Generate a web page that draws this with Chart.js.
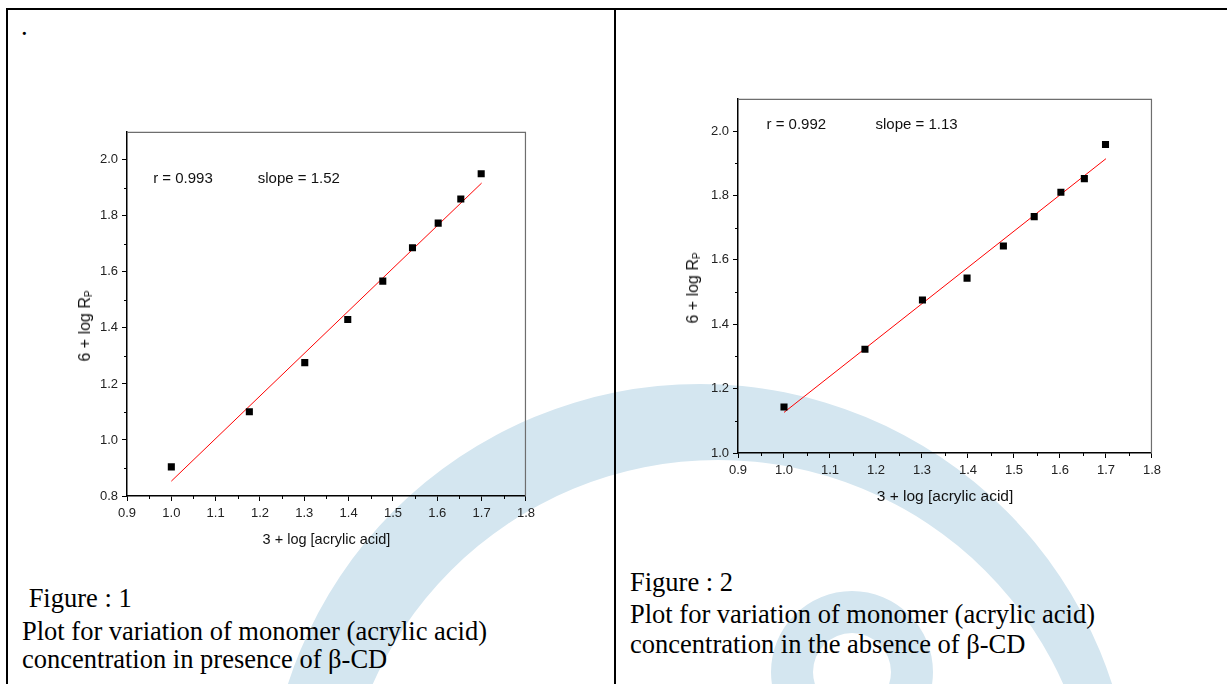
<!DOCTYPE html>
<html>
<head>
<meta charset="utf-8">
<script src="https://cdn.jsdelivr.net/npm/chart.js@4.4.1/dist/chart.umd.min.js"></script>
<style>
  html, body { margin: 0; padding: 0; background: #fff; }
  #page { position: relative; width: 1227px; height: 684px; overflow: hidden;
          font-family: "Liberation Serif", "Times New Roman", serif; }
  .wm { position: absolute; left: 0; top: 0; }
  .rule { position: absolute; background: #000; }
  .chartbox { position: absolute; }
  .ytitle { position: absolute; font-family: "Liberation Sans", Arial, sans-serif; font-size: 16px;
            color: #111; white-space: nowrap; transform: translate(-50%, -50%) rotate(-90deg); }
  .ytitle sub { font-size: 10px; vertical-align: -2px; }
  .cap { position: absolute; font-size: 26.5px; line-height: 30px; color: #000; white-space: nowrap; }
</style>
</head>
<body>
<div id="page">
  <svg class="wm" width="1227" height="684">
    <path fill="#d4e6f0" fill-rule="evenodd"
      d="M 267 817 A 433 433 0 1 1 1133 817 A 433 433 0 1 1 267 817 Z
         M 340 838 A 378 378 0 1 0 1096 838 A 378 378 0 1 0 340 838 Z"/>
    <path fill="#d4e6f0" fill-rule="evenodd"
      d="M 771 672 A 81 81 0 1 1 933 672 A 81 81 0 1 1 771 672 Z
         M 813 672 A 39 39 0 1 1 891 672 A 39 39 0 1 1 813 672 Z"/>
  </svg>

  <div class="rule" style="left:6px;top:8px;width:1221px;height:2px;"></div>
  <div class="rule" style="left:6px;top:8px;width:2px;height:676px;"></div>
  <div class="rule" style="left:614px;top:8px;width:2px;height:676px;"></div>

  <div class="cap" style="left:21px;top:11px;">.</div>

  <div class="chartbox" style="left:72px;top:120px;width:468px;height:440px;">
    <canvas id="c1" width="468" height="440"></canvas>
  </div>
  <div class="ytitle" style="left:85px;top:326px;">6 + log R<sub>P</sub></div>

  <div class="chartbox" style="left:683px;top:87px;width:483px;height:433px;">
    <canvas id="c2" width="483" height="433"></canvas>
  </div>
  <div class="ytitle" style="left:693px;top:288px;">6 + log R<sub>P</sub></div>

  <div class="cap" style="left:22px;top:583px;">&nbsp;Figure : 1</div>
  <div class="cap" style="left:22px;top:616px;">Plot for variation of monomer (acrylic acid)</div>
  <div class="cap" style="left:22px;top:644px;">concentration in presence of β-CD</div>

  <div class="cap" style="left:630px;top:567px;">Figure : 2</div>
  <div class="cap" style="left:630px;top:599px;">Plot for variation of monomer (acrylic acid)</div>
  <div class="cap" style="left:630px;top:629px;">concentration in the absence of β-CD</div>
</div>

<script>
// ---- data ----
const xValues      = [1.0, 1.176, 1.301, 1.398, 1.477, 1.544, 1.602, 1.653, 1.699];
const yPresenceCD  = [0.904, 1.101, 1.276, 1.430, 1.567, 1.686, 1.774, 1.860, 1.950];
const yAbsenceCD   = [1.143, 1.322, 1.475, 1.543, 1.643, 1.734, 1.810, 1.852, 1.958];
const fitX         = [1.0, 1.7];
const fitPresence  = [0.853, 1.917];
const fitAbsence   = [1.126, 1.914];
const xTicks       = [0.9, 1.0, 1.1, 1.2, 1.3, 1.4, 1.5, 1.6, 1.7, 1.8];
const xMinorTicks  = [0.95, 1.05, 1.15, 1.25, 1.35, 1.45, 1.55, 1.65, 1.75];
const yTicks1      = [0.8, 1.0, 1.2, 1.4, 1.6, 1.8, 2.0];
const yMinorTicks1 = [0.9, 1.1, 1.3, 1.5, 1.7, 1.9];
const yTicks2      = [1.0, 1.2, 1.4, 1.6, 1.8, 2.0];
const yMinorTicks2 = [1.1, 1.3, 1.5, 1.7, 1.9];
const notes1       = ["r = 0.993", "slope = 1.52"];
const notes2       = ["r = 0.992", "slope = 1.13"];
const xTitle       = "3 + log [acrylic acid]";

Chart.defaults.font.family = '"Liberation Sans", Arial, sans-serif';

const framePlugin = {
  id: 'frame',
  afterDraw(chart, args, o) {
    const { ctx, chartArea: a, scales: { x, y } } = chart;
    ctx.save();
    ctx.strokeStyle = '#6e6e6e';
    ctx.lineWidth = 1.2;
    ctx.beginPath();
    ctx.moveTo(a.left, a.top + 0.5);
    ctx.lineTo(a.right - 0.5, a.top + 0.5);
    ctx.lineTo(a.right - 0.5, a.bottom);
    ctx.stroke();
    ctx.strokeStyle = '#000';
    ctx.lineWidth = 1;
    o.xMinor.forEach(v => {
      const px = Math.round(x.getPixelForValue(v)) + 0.5;
      ctx.beginPath(); ctx.moveTo(px, a.bottom); ctx.lineTo(px, a.bottom + 3); ctx.stroke();
    });
    o.yMinor.forEach(v => {
      const py = Math.round(y.getPixelForValue(v)) + 0.5;
      ctx.beginPath(); ctx.moveTo(a.left, py); ctx.lineTo(a.left - 3, py); ctx.stroke();
    });
    ctx.fillStyle = '#111';
    ctx.font = '15px "Liberation Sans", Arial, sans-serif';
    ctx.textAlign = 'left';
    ctx.textBaseline = 'middle';
    o.notes.forEach(n => ctx.fillText(n.text, x.getPixelForValue(n.x), y.getPixelForValue(n.y)));
    ctx.restore();
  }
};

function makeChart(id, cfg) {
  const pts = xValues.map((xv, i) => ({ x: xv, y: cfg.ys[i] }));
  const fit = fitX.map((xv, i) => ({ x: xv, y: cfg.fit[i] }));
  return new Chart(document.getElementById(id), {
    type: 'scatter',
    data: {
      datasets: [
        { data: pts, pointStyle: 'rect', pointRadius: 5, pointHoverRadius: 5,
          backgroundColor: '#000', borderColor: '#000', borderWidth: 0, order: 0 },
        { data: fit, showLine: true, pointRadius: 0, borderColor: '#ff0000',
          borderWidth: 1, order: 1 }
      ]
    },
    options: {
      responsive: false,
      animation: false,
      devicePixelRatio: 1,
      layout: { padding: { top: 10, right: 10, left: 0, bottom: 0 } },
      plugins: {
        legend: { display: false },
        tooltip: { enabled: false },
        frame: { xMinor: xMinorTicks, yMinor: cfg.yMinor, notes: cfg.notes }
      },
      scales: {
        x: {
          type: 'linear', min: 0.9, max: 1.8,
          afterBuildTicks: s => { s.ticks = xTicks.map(v => ({ value: v })); },
          afterFit: s => { s.height = cfg.xAxisHeight; },
          ticks: { callback: v => v.toFixed(1), color: '#222', font: { size: 13 },
                   padding: 5, maxRotation: 0, autoSkip: false },
          grid: { drawOnChartArea: false, drawTicks: true, tickLength: 5, tickColor: '#000', tickWidth: 1 },
          border: { display: true, color: '#000', width: 1.5 },
          title: { display: true, text: xTitle, color: '#111', font: { size: cfg.xTitleSize },
                   padding: { top: 0, bottom: cfg.xTitlePad } }
        },
        y: {
          type: 'linear', min: cfg.yMin, max: 2.1,
          afterBuildTicks: s => { s.ticks = cfg.yTicks.map(v => ({ value: v })); },
          afterFit: s => { s.width = 55; },
          ticks: { callback: v => v.toFixed(1), color: '#222', font: { size: 13 },
                   padding: 4, autoSkip: false },
          grid: { drawOnChartArea: false, drawTicks: true, tickLength: 5, tickColor: '#000', tickWidth: 1 },
          border: { display: true, color: '#000', width: 1.5 }
        }
      }
    },
    plugins: [framePlugin]
  });
}

makeChart('c1', {
  ys: yPresenceCD, fit: fitPresence, yMin: 0.8, yTicks: yTicks1, yMinor: yMinorTicks1,
  xAxisHeight: 64, xTitleSize: 14.5, xTitlePad: 11,
  notes: [ { text: notes1[0], x: 0.959, y: 1.933 }, { text: notes1[1], x: 1.195, y: 1.933 } ]
});

makeChart('c2', {
  ys: yAbsenceCD, fit: fitAbsence, yMin: 1.0, yTicks: yTicks2, yMinor: yMinorTicks2,
  xAxisHeight: 67, xTitleSize: 15.5, xTitlePad: 14,
  notes: [ { text: notes2[0], x: 0.962, y: 2.02 }, { text: notes2[1], x: 1.199, y: 2.02 } ]
});
</script>
</body>
</html>
